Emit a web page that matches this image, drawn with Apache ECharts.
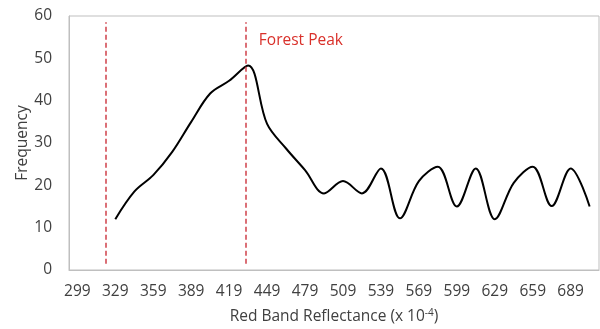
<!DOCTYPE html>
<html>
<head>
<meta charset="utf-8">
<script src="https://cdn.jsdelivr.net/npm/echarts@6/dist/echarts.min.js"></script>
<style>
html,body{margin:0;padding:0;background:#fff;}
#chart{width:600px;height:329px;}
</style>
</head>
<body>
<div id="chart"></div>
<script>
// Data
var reflectance = [329, 344, 359, 374, 389, 404, 419, 434, 449, 464, 479, 494, 509,
                   524, 539, 554, 569, 584, 599, 614, 629, 644, 659, 674, 689, 704];
var frequency = [12, 18.5, 22.4, 27.9, 35.0, 41.7, 44.7, 48.3, 34.5, 28.7, 23.6, 18.1, 21,
                 18.1, 24, 12.2, 21, 24.4, 15, 24, 12, 20.6, 24.4, 15.1, 24, 15];
var xTickLabels = [299, 329, 359, 389, 419, 449, 479, 509, 539, 569, 599, 629, 659, 689];
var dashedLinesX = [321.7, 432.5];
var dashedLineRange = [1.5, 58.5];
var peakLabel = { text: 'Forest Peak', x: 442.5, y: 54.3 };

var FONT = '"Open Sans", sans-serif';
var FS = 15.5;
var chart = echarts.init(document.getElementById('chart'), null, { renderer: 'canvas' });

var seriesData = reflectance.map(function (x, i) { return [x, frequency[i]]; });

var option = {
  animation: false,
  backgroundColor: '#ffffff',
  grid: {
    left: 69, right: 1, top: 16, bottom: 59,
    outerBoundsMode: 'none',
    containLabel: false,
    show: true, borderColor: '#bfbfbf', borderWidth: 1, backgroundColor: 'transparent'
  },
  xAxis: {
    type: 'value',
    min: 292.4,
    max: 711.4,
    name: 'Red Band Reflectance (x 10{sup|-4})',
    nameLocation: 'middle',
    nameGap: 38,
    nameMoveOverlap: false,
    nameTextStyle: {
      color: '#404040', fontFamily: FONT, fontSize: FS,
      rich: {
        sup: { fontSize: 10, color: '#404040', fontFamily: FONT, verticalAlign: 'top', padding: [0, 0, 7, 0] }
      }
    },
    axisLine: { show: true, lineStyle: { color: '#bfbfbf', width: 1 } },
    axisTick: { show: false },
    splitLine: { show: false },
    axisLabel: {
      customValues: xTickLabels,
      color: '#404040', fontFamily: FONT, fontSize: FS, margin: 14,
      formatter: function (v) { return String(v); }
    }
  },
  yAxis: {
    type: 'value',
    min: 0, max: 60, interval: 10,
    name: 'Frequency',
    nameLocation: 'middle',
    nameGap: 38,
    nameMoveOverlap: false,
    nameTextStyle: { color: '#404040', fontFamily: FONT, fontSize: FS },
    axisLine: { show: true, lineStyle: { color: '#bfbfbf', width: 1 } },
    axisTick: { show: false },
    splitLine: { show: false },
    axisLabel: { color: '#404040', fontFamily: FONT, fontSize: FS, margin: 17 }
  },
  series: [{
    type: 'line',
    data: seriesData,
    smooth: 0.35,
    symbol: 'none',
    lineStyle: { color: '#000000', width: 2 },
    markLine: {
      silent: true,
      symbol: ['none', 'none'],
      label: { show: false },
      lineStyle: { color: '#d0404a', width: 1.5, type: [5, 3] },
      data: dashedLinesX.map(function (x) {
        return [{ coord: [x, dashedLineRange[0]] }, { coord: [x, dashedLineRange[1]] }];
      })
    },
    markPoint: {
      silent: true,
      symbol: 'circle',
      symbolSize: 0,
      data: [{
        coord: [peakLabel.x, peakLabel.y],
        label: {
          show: true, position: 'inside', align: 'left', verticalAlign: 'middle',
          formatter: peakLabel.text, color: '#d9302a', fontFamily: FONT, fontSize: FS
        }
      }]
    }
  }]
};
chart.setOption(option);
</script>
</body>
</html>
